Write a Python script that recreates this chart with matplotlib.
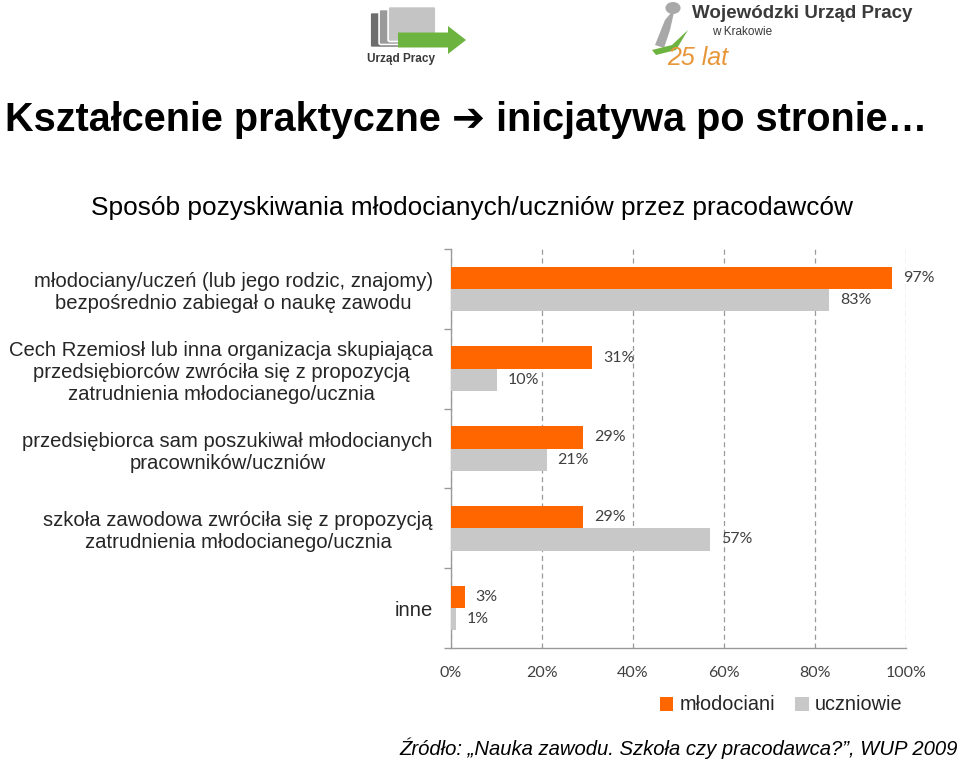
import matplotlib.pyplot as plt
from matplotlib.patches import FancyBboxPatch, FancyArrow, Polygon
import numpy as np

categories = [
    "młodociany/uczeń (lub jego rodzic, znajomy)\nbezpośrednio zabiegał o naukę zawodu",
    "Cech Rzemiosł lub inna organizacja skupiająca\nprzedsiębiorców zwróciła się z propozycją\nzatrudnienia młodocianego/ucznia",
    "przedsiębiorca sam poszukiwał młodocianych\npracowników/uczniów",
    "szkoła zawodowa zwróciła się z propozycją\nzatrudnienia młodocianego/ucznia",
    "inne",
]
mlodociani = [97, 31, 29, 29, 3]
uczniowie = [83, 10, 21, 57, 1]
xticks = [0, 20, 40, 60, 80, 100]
series_names = ["młodociani", "uczniowie"]

ORANGE = "#FF6600"
GREY = "#C8C8C8"
TEXT = "#262626"
LABEL = "#404040"
ARIAL = ["Liberation Sans", "DejaVu Sans"]

plt.rcParams["font.family"] = ARIAL

fig = plt.figure(figsize=(9.6, 7.61), dpi=100)
fig.patch.set_facecolor("white")

ax = fig.add_axes([451 / 960, 1 - 648 / 761, 455 / 960, 399 / 761])

y = np.arange(len(categories))
h = 0.28
b1 = ax.barh(y - h / 2, mlodociani, height=h, color=ORANGE, label=series_names[0], zorder=3)
b2 = ax.barh(y + h / 2, uczniowie, height=h, color=GREY, label=series_names[1], zorder=3)

for bars in (b1, b2):
    ax.bar_label(bars, labels=[f"{v}%" for v in bars.datavalues], padding=8,
                 fontsize=11.5, color=LABEL, family=["Lato", "DejaVu Sans"])

ax.set_xlim(0, 100)
ax.set_ylim(len(categories) - 0.5, -0.5)
ax.set_xticks(xticks)
ax.set_xticklabels([f"{t}%" for t in xticks], fontsize=11.5, color=LABEL,
                   family=["Lato", "DejaVu Sans"])
ax.tick_params(axis="x", length=0, pad=13)
ax.grid(axis="x", color="#9A9A9A", linestyle=(0, (4, 3)), linewidth=0.9, zorder=0)

ax.set_yticks(y)
ax.set_yticklabels(categories, fontsize=14.6, color=TEXT)
for lbl in ax.get_yticklabels():
    lbl.set_multialignment("center")
ax.tick_params(axis="y", length=0, pad=13)
ax.set_yticks(np.arange(-0.5, len(categories), 1), minor=True)
ax.tick_params(axis="y", which="minor", length=5, color="#9A9A9A", width=1)

for s in ("top", "right"):
    ax.spines[s].set_visible(False)
for s in ("left", "bottom"):
    ax.spines[s].set_color("#9A9A9A")
    ax.spines[s].set_linewidth(1)

leg = ax.legend(loc="center", bbox_to_anchor=(781 / 960, 1 - 705 / 761),
                bbox_transform=fig.transFigure, ncol=2, frameon=False,
                handlelength=0.7, handleheight=0.7, handletextpad=0.3,
                columnspacing=1.0, fontsize=14.3)
for t in leg.get_texts():
    t.set_color(TEXT)

# titles
fig.text(5 / 960, 1 - 120 / 761, "Kształcenie praktyczne ➔ inicjatywa po stronie…",
         fontsize=28.5, fontweight="bold", ha="left", va="center", color="black")
fig.text(472 / 960, 1 - 208 / 761, "Sposób pozyskiwania młodocianych/uczniów przez pracodawców",
         fontsize=18.9, ha="center", va="center", color="black")
fig.text(958 / 960, 1 - 748 / 761, "Źródło: „Nauka zawodu. Szkoła czy pracodawca?”, WUP 2009",
         fontsize=14.6, style="italic", ha="right", va="center", color="black")


# logos (rough approximation)
def fx(px):
    return px / 960


def fy(py):
    return 1 - py / 761


for i, col in enumerate(["#6E6E6E", "#9A9A9A", "#C4C4C4"]):
    p = FancyBboxPatch((fx(372 + i * 9), fy(46 - i * 3)), fx(44), 32 / 761,
                       boxstyle="round,pad=0.002", transform=fig.transFigure,
                       facecolor=col, edgecolor="white", linewidth=1.2)
    fig.patches.append(p)
arr = FancyArrow(fx(398), fy(40), fx(68), 0, width=15 / 761, head_width=28 / 761,
                 head_length=fx(18), length_includes_head=True,
                 transform=fig.transFigure, facecolor="#6DB33F", edgecolor="none")
fig.patches.append(arr)
fig.text(fx(401), fy(59), "Urząd Pracy", fontsize=8.5, fontweight="bold",
         ha="center", va="center", color="#3A3A3A")

fig.patches.append(Polygon([(fx(655), fy(45)), (fx(665), fy(20)), (fx(675), fy(8)),
                            (fx(670), fy(30)), (fx(664), fy(48))], closed=True,
                           transform=fig.transFigure, facecolor="#A8A8A8", edgecolor="none"))
fig.patches.append(plt.Circle((fx(673), fy(8)), 6 / 761, transform=fig.transFigure,
                              facecolor="#A8A8A8", edgecolor="none"))
fig.patches.append(Polygon([(fx(652), fy(50)), (fx(672), fy(45)), (fx(688), fy(30)),
                            (fx(676), fy(50)), (fx(656), fy(55))], closed=True,
                           transform=fig.transFigure, facecolor="#6DB33F", edgecolor="none"))
fig.text(fx(692), fy(13), "Wojewódzki Urząd Pracy", fontsize=13.5, fontweight="bold",
         ha="left", va="center", color="#3A3A3A")
fig.text(fx(712), fy(32), "w Krakowie", fontsize=8.5, ha="left", va="center", color="#3A3A3A")
fig.text(fx(667), fy(58), "25 lat", fontsize=18, style="italic", ha="left", va="center",
         color="#E8963A")

fig.savefig("out.png", dpi=100, facecolor="white")
